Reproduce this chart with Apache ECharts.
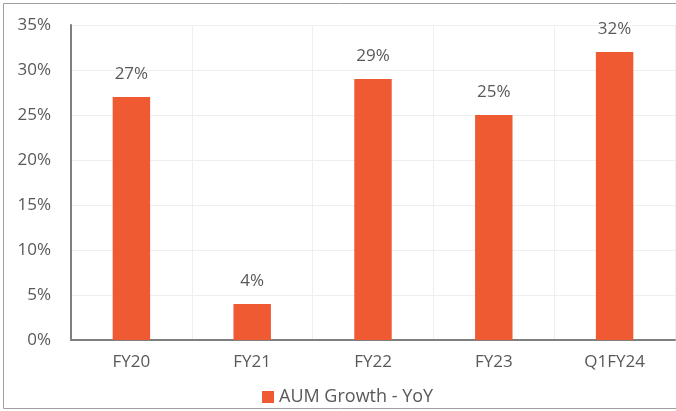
<!DOCTYPE html>
<html>
<head>
<meta charset="utf-8">
<script src="https://cdn.jsdelivr.net/npm/echarts@6/dist/echarts.min.js"></script>
<style>
  html, body { margin: 0; padding: 0; background: #fff; }
  #chart { width: 676px; height: 411px; }
</style>
</head>
<body>
<div id="chart"></div>
<script>
// Year-on-year AUM growth by fiscal period (percent)
var categories = ['FY20', 'FY21', 'FY22', 'FY23', 'Q1FY24'];
var aumGrowth = [27, 4, 29, 25, 32];
var seriesName = 'AUM Growth - YoY';
var yTicks = { min: 0, max: 35, step: 5 };

var textColor = '#595959';
var fontFamily = '"Open Sans", "Noto Sans", sans-serif';

var chart = echarts.init(document.getElementById('chart'));
chart.setOption({
  animation: false,
  textStyle: { fontFamily: fontFamily },
  graphic: [{
    type: 'rect',
    shape: { x: 3.5, y: 3.5, width: 676, height: 405 },
    style: { fill: 'none', stroke: '#a0a0a0', lineWidth: 1 },
    silent: true
  }],
  grid: { left: 71, right: 1, top: 25, bottom: 71 },
  legend: {
    top: 383,
    left: 257,
    itemWidth: 12,
    itemHeight: 12,
    itemGap: 6,
    icon: 'rect',
    textStyle: { color: textColor, fontSize: 18, fontFamily: fontFamily },
    data: [seriesName]
  },
  xAxis: {
    type: 'category',
    data: categories,
    axisLine: { show: true, lineStyle: { color: '#7f7f7f', width: 2 } },
    axisTick: { show: false },
    axisLabel: { color: textColor, fontSize: 17, margin: 14, fontFamily: fontFamily },
    splitLine: { show: true, lineStyle: { color: '#efefef', width: 1 } }
  },
  yAxis: {
    type: 'value',
    min: yTicks.min,
    max: yTicks.max,
    interval: yTicks.step,
    axisLine: { show: true, lineStyle: { color: '#7f7f7f', width: 2 } },
    axisTick: { show: false },
    axisLabel: { color: textColor, fontSize: 17, margin: 20, formatter: '{value}%', fontFamily: fontFamily },
    splitLine: { show: true, lineStyle: { color: '#efefef', width: 1 } }
  },
  series: [{
    name: seriesName,
    type: 'bar',
    data: aumGrowth,
    barWidth: '31%',
    itemStyle: { color: '#F05A33' },
    label: {
      show: true,
      position: 'top',
      distance: 14,
      formatter: '{c}%',
      color: textColor,
      fontSize: 17,
      fontFamily: fontFamily
    }
  }]
});
</script>
</body>
</html>
